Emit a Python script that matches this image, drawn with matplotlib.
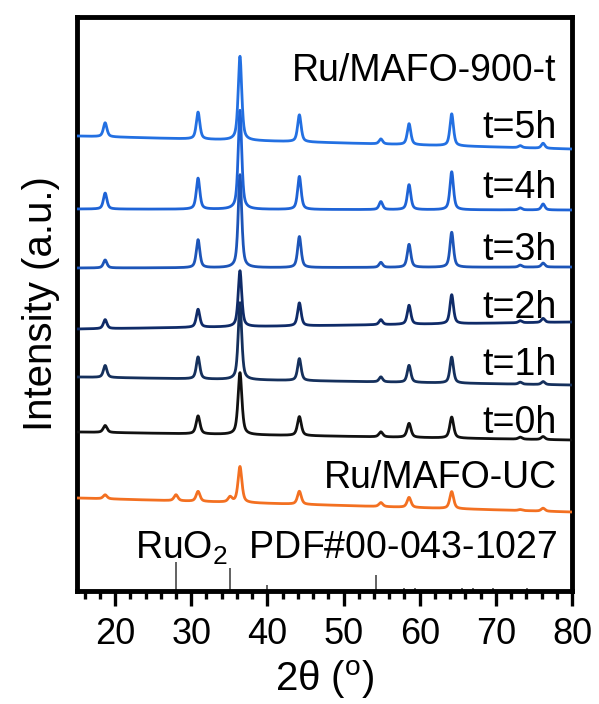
# XRD patterns of Ru/MAFO samples with RuO2 reference lines
import numpy as np
import matplotlib.pyplot as plt
from matplotlib.ticker import MultipleLocator

plt.rcParams['font.family'] = ['Liberation Sans', 'DejaVu Sans']

# spinel reflections shared by all samples (2theta, deg)
peak_pos = [18.7, 30.9, 36.4, 44.2, 54.9, 58.6, 64.2, 73.2, 76.2]

# sample names, peak heights and baseline (start, end) offsets, a.u.
names = ['Ru/MAFO-UC', 't=0h', 't=1h', 't=2h', 't=3h', 't=4h', 't=5h']
heights_uc = [4, 10, 36, 13, 4, 10, 17, 1, 3]
heights_0h = [7, 18, 62, 19, 5, 14, 21, 2, 3]
heights_1h = [12, 22, 77, 22, 5, 17, 26, 2, 3]
heights_2h = [9, 18, 56, 23, 5, 19, 29, 2, 4]
heights_3h = [8, 28, 93, 31, 5, 23, 35, 2, 4]
heights_4h = [16, 31, 99, 33, 8, 25, 38, 2, 6]
heights_5h = [14, 27, 84, 27, 5, 21, 32, 2, 5]
base_start = [93, 159, 214, 262, 323, 382, 455]
base_end = [79, 151, 206, 269, 324, 381, 442]
colors = ['#f37021', '#111111', '#15305c', '#0f2b68', '#1d55b8', '#1e63d6', '#2370e2']

# RuO2 shoulders only seen in the uncalcined sample
ruo2_uc_pos = [28.0, 35.1]
ruo2_uc_h = [6, 5]

# RuO2 PDF#00-043-1027 stick pattern
ref_pos = [28.0, 35.1, 40.0, 54.3, 57.9, 59.4, 65.5, 67.0, 69.6, 74.1]
ref_h = [29, 23, 6, 16, 3, 3, 3, 3, 3, 3]

all_heights = [heights_uc, heights_0h, heights_1h, heights_2h,
               heights_3h, heights_4h, heights_5h]

x = np.linspace(15, 80, 4000)


def profile(x, pos, h, w):
    # pseudo-Voigt peak
    g = np.exp(-4 * np.log(2) * (x - pos) ** 2 / w ** 2)
    l = 1 / (1 + 4 * (x - pos) ** 2 / w ** 2)
    return h * (0.6 * l + 0.4 * g)


fig = plt.figure(figsize=(5.99, 7.04), dpi=100)
ax = fig.add_axes([0.1285, 0.1605, 0.8265, 0.8153])

for i in range(len(names)):
    y = base_start[i] + (base_end[i] - base_start[i]) * (x - 15) / 65
    w = 0.6 if i < 2 else 0.55
    for p, h in zip(peak_pos, all_heights[i]):
        y = y + profile(x, p, h, w)
    if i == 0:
        for p, h in zip(ruo2_uc_pos, ruo2_uc_h):
            y = y + profile(x, p, h, 0.6)
    ax.plot(x, y, color=colors[i], lw=2.0, zorder=3 + i)

ax.vlines(ref_pos, 0, ref_h, color='#555555', lw=1.3)

# sample labels
label_y = [478, 423, 365, 308, 250, 188, 128]
for name, ly in zip(names, label_y):
    ax.text(78.0, 591 - ly, name, ha='right', va='center', fontsize=27)
ax.text(78.0, 591 - 71, 'Ru/MAFO-900-t', ha='right', va='center', fontsize=27)
ax.text(22.6, 591 - 548, r'RuO$_\mathregular{2}$  PDF#00-043-1027',
        ha='left', va='center', fontsize=27)

ax.set_xlim(15, 80)
ax.set_ylim(0, 574)
ax.xaxis.set_major_locator(MultipleLocator(10))
ax.xaxis.set_minor_locator(MultipleLocator(2))
ax.tick_params(axis='x', which='major', direction='out', length=11, width=2.4,
               labelsize=26, pad=8)
ax.tick_params(axis='x', which='minor', direction='out', length=6, width=2.4)
ax.set_yticks([])
for s in ax.spines.values():
    s.set_linewidth(3.5)

ax.set_xlabel(r'2θ ($^\mathregular{o}$)', fontsize=29, labelpad=4)
ax.set_ylabel('Intensity (a.u.)', fontsize=29, labelpad=12)

fig.savefig('out.png', dpi=100)
